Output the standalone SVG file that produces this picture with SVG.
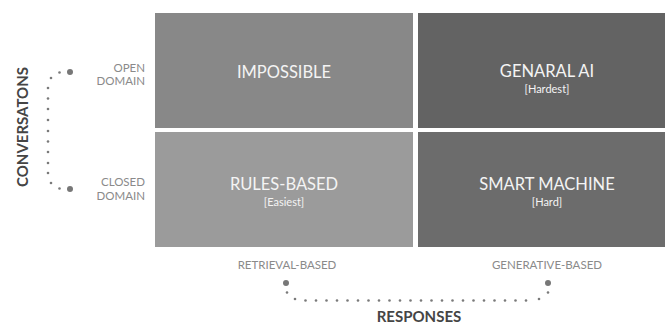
<svg xmlns="http://www.w3.org/2000/svg" width="665" height="326" viewBox="0 0 665 326">
<style>
.q{font-family:Lato,"Liberation Sans",sans-serif;fill:#f4f4f4;text-anchor:middle}
.t{font-size:16.5px}
.s{font-size:11px}
.ax{font-family:Lato,"Liberation Sans",sans-serif;font-size:11.5px;fill:#8a8a8a}
.ttl{font-family:Lato,"Liberation Sans",sans-serif;font-size:15px;font-weight:bold;fill:#454545;text-anchor:middle}
.d{fill:#7a7a7a}
.D{fill:#777777}
</style>
<rect width="665" height="326" fill="#ffffff"/>
<g id="impossible">
<rect x="155" y="13" width="258" height="115" fill="#888888"/>
<text class="q t" x="284" y="78">IMPOSSIBLE</text>
</g>
<g id="general-ai">
<rect x="418" y="13" width="247" height="115" fill="#636363"/>
<text class="q t" x="547" y="77">GENARAL AI</text>
<text class="q s" x="547" y="93">[Hardest]</text>
</g>
<g id="rules-based">
<rect x="155" y="132" width="258" height="115" fill="#9b9b9b"/>
<text class="q t" x="284" y="190">RULES-BASED</text>
<text class="q s" x="284" y="206">[Easiest]</text>
</g>
<g id="smart-machine">
<rect x="418" y="132" width="247" height="115" fill="#6c6c6c"/>
<text class="q t" x="547" y="190">SMART MACHINE</text>
<text class="q s" x="547" y="206">[Hard]</text>
</g>
<g id="row-labels">
<text class="ax" x="145" y="72" text-anchor="end">OPEN</text>
<text class="ax" x="145" y="85" text-anchor="end">DOMAIN</text>
<text class="ax" x="145" y="186" text-anchor="end">CLOSED</text>
<text class="ax" x="145" y="200" text-anchor="end">DOMAIN</text>
</g>
<g id="col-labels">
<text class="ax" x="287" y="269" text-anchor="middle">RETRIEVAL-BASED</text>
<text class="ax" x="547" y="269" text-anchor="middle">GENERATIVE-BASED</text>
</g>
<text class="ttl" transform="translate(28,127) rotate(-90)">CONVERSATONS</text>
<text class="ttl" x="419" y="322">RESPONSES</text>
<g id="connectors">
<circle class="D" cx="70" cy="72" r="3"/>
<circle class="D" cx="70" cy="189" r="3"/>
<g class="d">
<circle cx="59.5" cy="72.5" r="1.3"/>
<circle cx="51" cy="78" r="1.3"/>
<circle cx="48" cy="88" r="1.3"/>
<circle cx="48" cy="98.5" r="1.3"/>
<circle cx="48" cy="109" r="1.3"/>
<circle cx="48" cy="120" r="1.3"/>
<circle cx="48" cy="131" r="1.3"/>
<circle cx="48" cy="141.5" r="1.3"/>
<circle cx="48" cy="152" r="1.3"/>
<circle cx="48" cy="163" r="1.3"/>
<circle cx="48" cy="173" r="1.3"/>
<circle cx="51" cy="183" r="1.3"/>
<circle cx="59.5" cy="188.5" r="1.3"/>
</g>
<circle class="D" cx="286" cy="283" r="3"/>
<circle class="D" cx="548" cy="283" r="3"/>
<g class="d">
<circle cx="287" cy="292.5" r="1.3"/>
<circle cx="295" cy="299" r="1.3"/>
<circle cx="305.5" cy="300.5" r="1.3"/>
<circle cx="316" cy="300.5" r="1.3"/>
<circle cx="326.5" cy="300.5" r="1.3"/>
<circle cx="337" cy="300.5" r="1.3"/>
<circle cx="347.5" cy="300.5" r="1.3"/>
<circle cx="358" cy="300.5" r="1.3"/>
<circle cx="368.5" cy="300.5" r="1.3"/>
<circle cx="379" cy="300.5" r="1.3"/>
<circle cx="389.5" cy="300.5" r="1.3"/>
<circle cx="400" cy="300.5" r="1.3"/>
<circle cx="410.5" cy="300.5" r="1.3"/>
<circle cx="421" cy="300.5" r="1.3"/>
<circle cx="431.5" cy="300.5" r="1.3"/>
<circle cx="442" cy="300.5" r="1.3"/>
<circle cx="452.5" cy="300.5" r="1.3"/>
<circle cx="463" cy="300.5" r="1.3"/>
<circle cx="473.5" cy="300.5" r="1.3"/>
<circle cx="484" cy="300.5" r="1.3"/>
<circle cx="494.5" cy="300.5" r="1.3"/>
<circle cx="505" cy="300.5" r="1.3"/>
<circle cx="515.5" cy="300.5" r="1.3"/>
<circle cx="526" cy="300.5" r="1.3"/>
<circle cx="539" cy="299" r="1.3"/>
<circle cx="548" cy="292.5" r="1.3"/>
</g>
</g>
</svg>
